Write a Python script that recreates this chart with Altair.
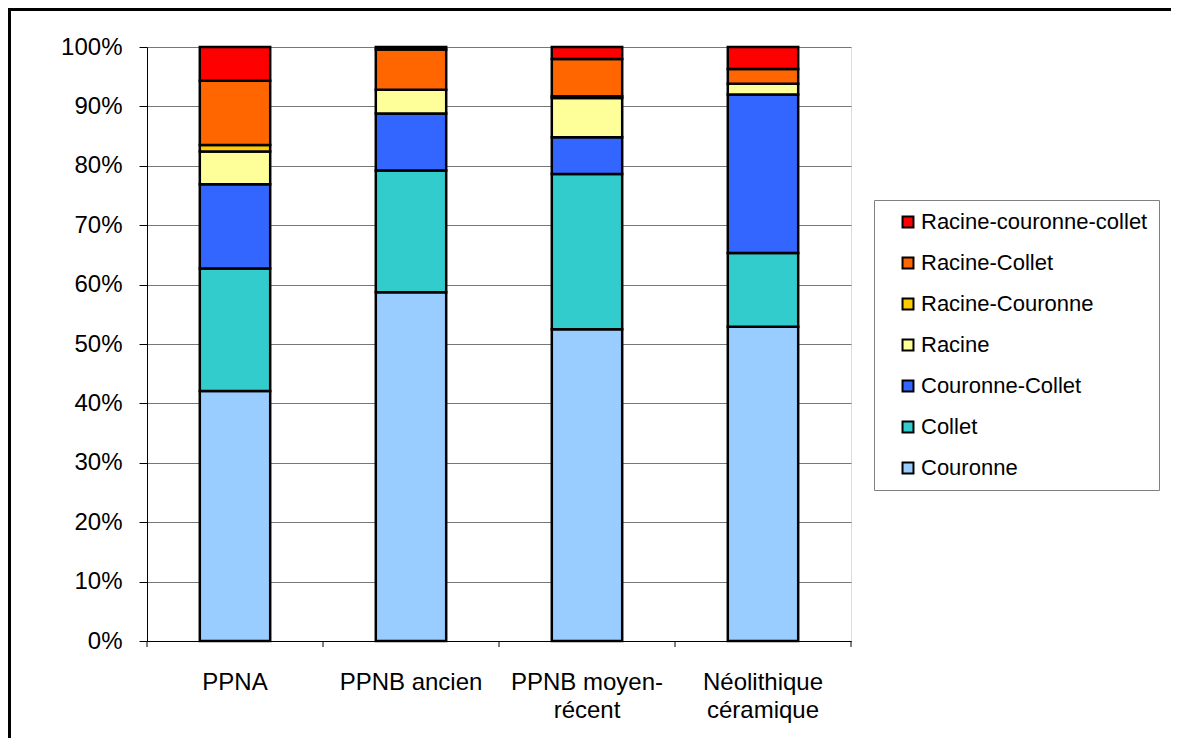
import altair as alt
import pandas as pd

periods = ["PPNA", "PPNB ancien", "PPNB moyen-récent", "Néolithique céramique"]
types = ["Couronne", "Collet", "Couronne-Collet", "Racine",
         "Racine-Couronne", "Racine-Collet", "Racine-couronne-collet"]
colors = ["#99CCFF", "#33CCCC", "#3366FF", "#FFFF99", "#FFCC00", "#FF6600", "#FF0000"]

couronne = [42.1, 58.7, 52.5, 52.9]
collet = [20.6, 20.5, 26.1, 12.4]
couronne_collet = [14.2, 9.6, 6.2, 26.7]
racine = [5.5, 4.0, 6.6, 1.8]
racine_couronne = [1.1, 0.0, 0.3, 0.0]
racine_collet = [10.8, 6.8, 6.3, 2.5]
racine_couronne_collet = [5.7, 0.4, 2.0, 3.7]

series = [couronne, collet, couronne_collet, racine,
          racine_couronne, racine_collet, racine_couronne_collet]

rows = []
for i, (t, vals) in enumerate(zip(types, series)):
    for p, v in zip(periods, vals):
        rows.append({"period": p, "type": t, "idx": i, "value": v / 100.0})
df = pd.DataFrame(rows)

W, H = 704, 594
FONT = "Liberation Sans"

label_expr = ("datum.value == 'PPNB moyen-récent' ? ['PPNB moyen-', 'récent'] : "
              "datum.value == 'Néolithique céramique' ? ['Néolithique', 'céramique'] : datum.value")

xscale = alt.Scale(domain=periods, paddingInner=0, paddingOuter=0)
xaxis = alt.Axis(title=None, labelAngle=0, ticks=False, domainColor="black",
                 domainWidth=1, labelFontSize=24, labelColor="black",
                 labelPadding=29, labelLineHeight=28, labelExpr=label_expr,
                 labelBaseline="top", labelFont=FONT, labelOverlap=False,
                 labelLimit=300)

bars = alt.Chart(df).mark_bar(stroke="black", strokeWidth=2.5,
                              width=alt.RelativeBandSize(0.4)).encode(
    x=alt.X("period:N", sort=periods, scale=xscale, axis=xaxis),
    y=alt.Y("value:Q", stack="zero",
            scale=alt.Scale(domain=[0, 1], nice=False, zero=True),
            axis=alt.Axis(title=None, format="%", values=[i / 10 for i in range(11)],
                          tickSize=8, tickColor="black", domainColor="black",
                          labelFontSize=24, labelColor="black", labelPadding=17,
                          grid=True, gridColor="#777777", gridWidth=1,
                          labelFont=FONT)),
    color=alt.Color("type:N",
                    scale=alt.Scale(domain=types[::-1], range=colors[::-1]),
                    legend=alt.Legend(title=None, orient="none", legendX=727, legendY=153,
                                      symbolType="square", symbolSize=120,
                                      symbolStrokeColor="black", symbolStrokeWidth=2,
                                      symbolOffset=12, labelFontSize=22, labelFont=FONT,
                                      labelColor="black", labelOffset=2, labelLimit=400,
                                      rowPadding=19, padding=11,
                                      strokeColor="#808080", fillColor="white")),
    order=alt.Order("idx:Q", sort="ascending"),
)

ticks_df = pd.DataFrame({"period": periods})
xticks = alt.Chart(ticks_df).mark_rule(color="black", strokeWidth=1).encode(
    x=alt.X("period:N", sort=periods, scale=xscale, bandPosition=0),
    y=alt.value(H), y2=alt.value(H + 6),
)
xticks_end = alt.Chart(ticks_df.tail(1)).mark_rule(color="black", strokeWidth=1).encode(
    x=alt.X("period:N", sort=periods, scale=xscale, bandPosition=1),
    y=alt.value(H), y2=alt.value(H + 6),
)

frame = alt.Chart(pd.DataFrame({"a": [0]})).mark_rect(
    fill=None, stroke="black", strokeWidth=3).encode(
    x=alt.value(-137.5), x2=alt.value(1400),
    y=alt.value(-37.5), y2=alt.value(1000),
)

chart = alt.layer(bars, xticks, xticks_end, frame).properties(
    width=W, height=H,
    padding={"left": 139, "top": 39, "right": 320, "bottom": 97},
    autosize=alt.AutoSizeParams(type="none"),
    background="white",
).configure_view(
    fill="#C0C0C0", stroke=None
).configure(font=FONT)

chart.save("out.html", embed_options={"renderer": "svg", "actions": False})
